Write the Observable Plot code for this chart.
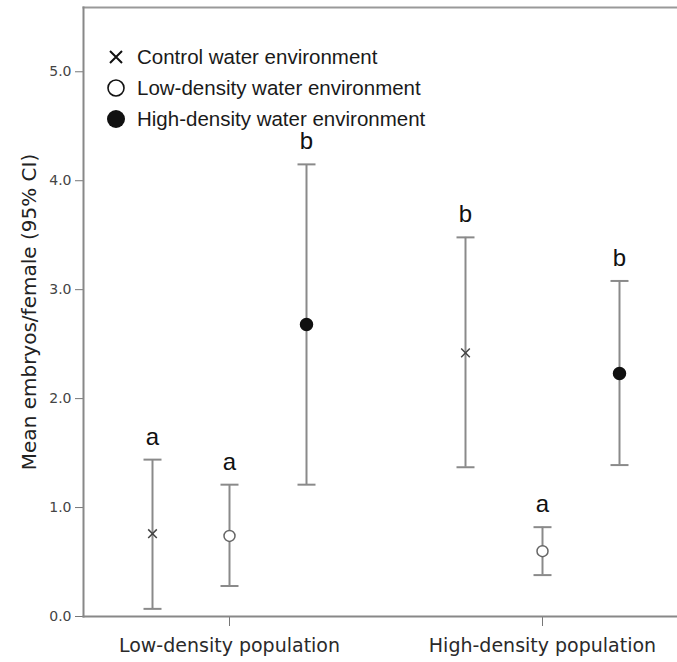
<!DOCTYPE html>
<html>
<head>
<meta charset="utf-8">
<script src="https://cdn.jsdelivr.net/npm/d3@7"></script>
<script src="https://cdn.jsdelivr.net/npm/@observablehq/plot@0.6"></script>
<style>
  html, body { margin: 0; padding: 0; background: #fff; }
  #wrap { position: relative; width: 677px; height: 662px; }
  #legend { position: absolute; left: 106px; top: 41px; font-family: "Liberation Sans", Arial, sans-serif; font-size: 20.5px; color: #1a1a1a; }
  #legend .row { display: flex; align-items: center; height: 31px; }
  #legend svg { margin-right: 11px; }
  g[aria-label="y-axis label"] text { font-size: 20px; fill: #222; font-family: "DejaVu Sans", sans-serif; }
</style>
</head>
<body>
<div id="wrap">
  <div id="chart"></div>
  <div id="legend"></div>
</div>
<script>
const groups = ["Low-density population", "High-density population"];
const environments = ["Control water environment", "Low-density water environment", "High-density water environment"];

// Control water environment
const controlMean = [0.76, 2.42];
const controlLo = [0.07, 1.37];
const controlHi = [1.44, 3.48];
const controlLetter = ["a", "b"];

// Low-density water environment
const lowMean = [0.74, 0.60];
const lowLo = [0.28, 0.38];
const lowHi = [1.21, 0.82];
const lowLetter = ["a", "a"];

// High-density water environment
const highMean = [2.68, 2.23];
const highLo = [1.21, 1.39];
const highHi = [4.15, 3.08];
const highLetter = ["b", "b"];

const yTicks = [0, 1, 2, 3, 4, 5];

function rows(mean, lo, hi, letter) {
  return groups.map((g, i) => ({group: g, mean: mean[i], lo: lo[i], hi: hi[i], letter: letter[i]}));
}
const series = [
  {data: rows(controlMean, controlLo, controlHi, controlLetter), dx: -77, symbol: "times", fill: "none", stroke: "#444", r: 4},
  {data: rows(lowMean, lowLo, lowHi, lowLetter), dx: 0, symbol: "circle", fill: "white", stroke: "#666", r: 5.5},
  {data: rows(highMean, highLo, highHi, highLetter), dx: 77, symbol: "circle", fill: "#111", stroke: "#111", r: 6}
];

const cap = {
  draw(ctx, size) {
    const w = Math.sqrt(size / Math.PI);
    ctx.moveTo(-w, 0);
    ctx.lineTo(w, 0);
  }
};

const barColor = "#8a8a8a";
const marks = [
  Plot.frame({anchor: "top", stroke: "#999", strokeWidth: 2}),
  Plot.frame({anchor: "left", stroke: "#888", strokeWidth: 2}),
  Plot.frame({anchor: "bottom", stroke: "#888", strokeWidth: 2})
];
for (const s of series) {
  marks.push(
    Plot.ruleX(s.data, {x: "group", y1: "lo", y2: "hi", dx: s.dx, stroke: barColor, strokeWidth: 2}),
    Plot.dot(s.data, {x: "group", y: "lo", dx: s.dx, symbol: cap, r: 9, stroke: barColor, strokeWidth: 2, fill: "none"}),
    Plot.dot(s.data, {x: "group", y: "hi", dx: s.dx, symbol: cap, r: 9, stroke: barColor, strokeWidth: 2, fill: "none"}),
    Plot.dot(s.data, {x: "group", y: "mean", dx: s.dx, symbol: s.symbol, r: s.r, fill: s.fill, stroke: s.stroke, strokeWidth: 1.5}),
    Plot.text(s.data, {x: "group", y: "hi", text: "letter", dx: s.dx, dy: -15, lineAnchor: "bottom", fontSize: 24, fill: "#111", fontFamily: "Liberation Sans, Arial, sans-serif"})
  );
}

const chart = Plot.plot({
  width: 677,
  height: 662,
  marginLeft: 83,
  marginRight: 0,
  marginTop: 7,
  marginBottom: 46,
  style: {fontFamily: "DejaVu Sans, sans-serif", background: "white"},
  x: {type: "point", domain: groups, range: [229, 542], padding: 0},
  y: {domain: [0, 5.59]},
  marks: [
    Plot.axisY({ticks: yTicks, tickFormat: d3.format(".1f"), tickSize: 8, tickPadding: 4, fontSize: 14, color: "#444", stroke: "#777", label: "Mean embryos/female (95% CI)", labelAnchor: "center", labelArrow: "none", labelOffset: 62}),
    Plot.axisX({tickSize: 10, tickPadding: 12, fontSize: 19, color: "#2a2a2a", stroke: "#777", label: null}),
    ...marks
  ]
});
document.getElementById("chart").appendChild(chart);

// Legend (inside the plot area, top-left)
const legend = document.getElementById("legend");
const legendSymbols = [
  '<svg width="20" height="20" viewBox="-10 -10 20 20"><path d="M-6,-6L6,6M-6,6L6,-6" stroke="#111" stroke-width="2" fill="none"/></svg>',
  '<svg width="20" height="20" viewBox="-10 -10 20 20"><circle r="8" fill="white" stroke="#111" stroke-width="1.6"/></svg>',
  '<svg width="20" height="20" viewBox="-10 -10 20 20"><circle r="9" fill="#111"/></svg>'
];
environments.forEach((e, i) => {
  const row = document.createElement("div");
  row.className = "row";
  row.innerHTML = legendSymbols[i];
  const span = document.createElement("span");
  span.textContent = e;
  row.appendChild(span);
  legend.appendChild(row);
});
</script>
</body>
</html>
